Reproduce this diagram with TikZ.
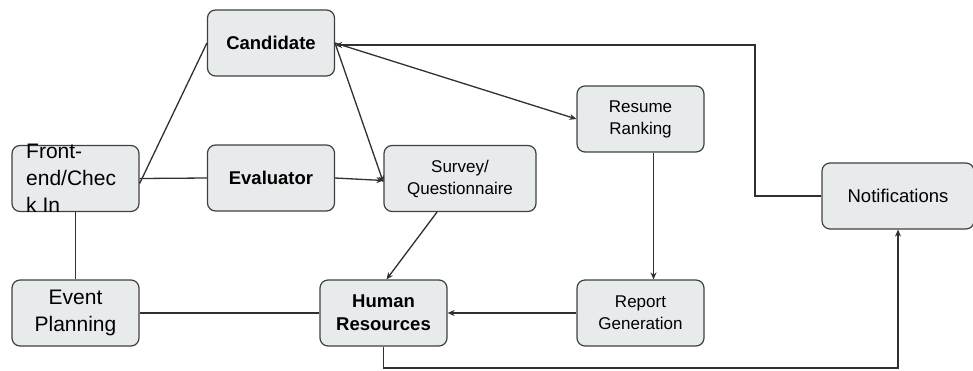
\documentclass[tikz,border=0pt]{standalone}
\usepackage{fontspec}
\setmainfont{Liberation Sans}
\usetikzlibrary{arrows.meta}
\definecolor{boxfill}{HTML}{E8EBEC}
\definecolor{boxline}{HTML}{404040}
\definecolor{wire}{HTML}{303030}
\begin{document}
\begin{tikzpicture}[x=1pt,y=-1pt,
  box/.style={draw=boxline, fill=boxfill, line width=1.2pt, rounded corners=8pt,
    minimum width=127pt, minimum height=66pt, align=center, inner sep=0pt},
  wide/.style={minimum width=152pt},
  link/.style={draw=wire, line width=1.3pt},
  arr/.style={link, -{Stealth[length=7pt,width=6pt]}},
  big/.style={font=\fontsize{21}{27}\selectfont},
  mid/.style={font=\fontsize{18.5}{23}\selectfont},
  midb/.style={font=\fontsize{18.5}{23}\selectfont\bfseries},
  small/.style={font=\fontsize{17}{22}\selectfont}]
\useasboundingbox (0,0) rectangle (973,370);

% boxes
\node[box, midb] (cand) at (271,43) {Candidate};
\node[box] (front) at (75.5,178.5) {};
\node[big, align=left, anchor=west, inner sep=0pt] (fronttxt) at (26,178) {Front-\\end/Chec\\k In};
\node[box, midb] (eval) at (271,178) {Evaluator};
\node[box, wide, small] (survey) at (460,178.5) {Survey/\\Questionnaire};
\node[box, small] (rank) at (640.5,119) {Resume\\Ranking};
\node[box, wide, mid] (notif) at (898,196) {Notifications};
\node[box, big] (event) at (75.5,313) {Event\\Planning};
\node[box, midb] (hr) at (383.5,313) {Human\\Resources};
\node[box, small] (report) at (640.5,313) {Report\\Generation};

% connectors
\coordinate (candR) at (335,43);
\draw[link] ([yshift=-5pt]front.east) -- (cand.west);
\draw[link] (front.east) -- (eval.west);
\draw[link] (front.south) -- (event.north);
\draw[link] (event.east) -- (hr.west);
\draw[arr] (eval.east) -- ([yshift=-2pt]survey.west);
\draw[arr] (candR) -- ([yshift=-4pt]survey.west);
\draw[arr] (candR) -- (rank.west);
\draw[arr] (notif.west) -| (755,45) -- ([yshift=-2pt]cand.east);
\draw[arr] ([xshift=13pt]rank.south) -- ([xshift=13pt]report.north);
\draw[arr] (report.west) -- (hr.east);
\draw[arr] ([xshift=-23pt]survey.south) -- ([xshift=3pt]hr.north);
\draw[arr] (hr.south) |- (898,368) -- (notif.south);
\end{tikzpicture}
\end{document}
